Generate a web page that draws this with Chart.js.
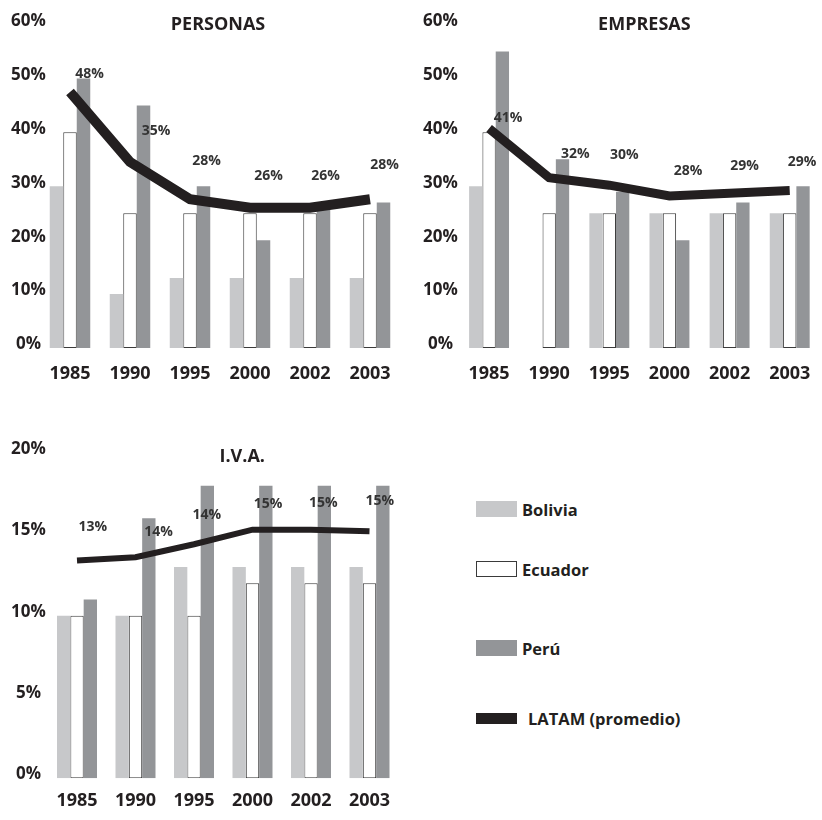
<!DOCTYPE html>
<html>
<head>
<meta charset="utf-8">
<script src="https://cdn.jsdelivr.net/npm/chart.js@4.4.0/dist/chart.umd.min.js"></script>
<style>
  html, body { margin: 0; padding: 0; background: #fff; }
  body { width: 822px; height: 820px; position: relative; overflow: hidden; font-family: 'Open Sans', sans-serif; color: #231f20; }
  canvas { position: absolute; }
  #cPersonas { left: 0; top: 0; }
  #cEmpresas { left: 410px; top: 0; }
  #cIva { left: 0; top: 410px; }
  .leg { position: absolute; display: flex; align-items: center; font-weight: 700; font-size: 16.5px; }
  .sw { width: 41px; height: 16px; margin-right: 5px; box-sizing: border-box; }
</style>
</head>
<body>
<canvas id="cPersonas" width="410" height="399"></canvas>
<canvas id="cEmpresas" width="415" height="399"></canvas>
<canvas id="cIva" width="410" height="413"></canvas>

<div class="leg" style="left:476px; top:497px; height:24px;"><div class="sw" style="background:#c7c8ca"></div>Bolivia</div>
<div class="leg" style="left:476px; top:557px; height:24px;"><div class="sw" style="background:#fff; border:1px solid #3a3a3a"></div>Ecuador</div>
<div class="leg" style="left:476px; top:636px; height:24px;"><div class="sw" style="background:#939598"></div>Perú</div>
<div class="leg" style="left:476px; top:706px; height:24px;"><div class="sw" style="background:#231f20; height:11px; margin-right:11px"></div>LATAM (promedio)</div>

<script>
const years = ['1985', '1990', '1995', '2000', '2002', '2003'];

// Impuesto a la renta - personas
const personasBolivia = [30, 10, 13, 13, 13, 13];
const personasEcuador = [40, 25, 25, 25, 25, 25];
const personasPeru = [50, 45, 30, 20, 26, 27];
const personasLatam = [47.5, 34.5, 27.6, 26, 26, 27.6];
const personasTicks = [0, 10, 20, 30, 40, 50, 60];

// Impuesto a la renta - empresas
const empresasBolivia = [30, null, 25, 25, 25, 25];
const empresasEcuador = [40, 25, 25, 25, 25, 25];
const empresasPeru = [55, 35, 29, 20, 27, 30];
const empresasLatam = [40.7, 31.6, 30.2, 28.2, 28.7, 29.2];
const empresasTicks = [0, 10, 20, 30, 40, 50, 60];

// Impuesto al valor agregado
const ivaBolivia = [10, 10, 13, 13, 13, 13];
const ivaEcuador = [10, 10, 10, 12, 12, 12];
const ivaPeru = [11, 16, 18, 18, 18, 18];
const ivaLatam = [13.4, 13.6, 14.4, 15.3, 15.3, 15.2];
const ivaTicks = [0, 5, 10, 15, 20];

const INK = '#231f20';
const FONT = "'Open Sans', sans-serif";
const Y_FONT = { family: FONT, size: 17, weight: 'bold' };
const Y_WIDTH = 40;

// ancho del rotulo mas largo del eje y, para centrarlos
function widestTick(ticks) {
  const ctx = document.createElement('canvas').getContext('2d');
  ctx.font = 'bold ' + Y_FONT.size + 'px ' + FONT;
  return Math.max(...ticks.map(v => ctx.measureText(v + '%').width));
}

// titulo del panel y etiquetas del promedio LATAM
const panelText = {
  id: 'panelText',
  afterDatasetsDraw(chart, args, opts) {
    const ctx = chart.ctx;
    const area = chart.chartArea;
    ctx.save();
    ctx.fillStyle = INK;
    ctx.textAlign = 'center';
    ctx.textBaseline = 'middle';
    ctx.font = 'bold 18px ' + FONT;
    ctx.fillText(opts.title, (area.left + area.right) / 2 + opts.titleDx, area.top + opts.titleDy);

    ctx.font = 'bold 14px ' + FONT;
    ctx.fillStyle = '#333';
    const meta = chart.getDatasetMeta(3);
    const vals = chart.data.datasets[3].data;
    meta.data.forEach((pt, i) => {
      const [dx, dy] = opts.labelShift[i];
      ctx.fillText(Math.round(vals[i]) + '%', pt.x + dx, pt.y + dy);
    });
    ctx.restore();
  }
};

function makePanel(id, cfg) {
  const half = widestTick(cfg.ticks) / 2;
  // rotulos del eje y centrados en cfg.yCenter (se dibujan en modo mirror)
  const yPad = cfg.yCenter - (cfg.padding.left + Y_WIDTH) - half;
  return new Chart(document.getElementById(id), {
    type: 'bar',
    data: {
      labels: years,
      datasets: [
        { label: 'Bolivia', data: cfg.bolivia, backgroundColor: '#c7c8ca', borderWidth: 0, order: 1 },
        { label: 'Ecuador', data: cfg.ecuador, backgroundColor: '#ffffff', borderColor: '#3a3a3a', borderWidth: 1, borderSkipped: false, order: 1 },
        { label: 'Perú', data: cfg.peru, backgroundColor: '#939598', borderWidth: 0, order: 1 },
        {
          type: 'line', label: 'LATAM (promedio)', data: cfg.latam,
          borderColor: INK, borderWidth: cfg.lineWidth, pointRadius: 0,
          borderCapStyle: 'butt', borderJoinStyle: 'miter', tension: 0, fill: false, order: 0
        }
      ]
    },
    options: {
      responsive: false,
      animation: false,
      devicePixelRatio: 1,
      layout: { padding: cfg.padding },
      datasets: {
        bar: { categoryPercentage: cfg.catPct, barPercentage: 1 }
      },
      plugins: {
        legend: { display: false },
        tooltip: { enabled: false },
        panelText: cfg.text
      },
      scales: {
        x: {
          grid: { display: false, drawTicks: false },
          border: { display: false },
          ticks: { color: INK, font: { family: FONT, size: 18, weight: 'bold' }, padding: cfg.xPad, maxRotation: 0 }
        },
        y: {
          min: 0,
          max: cfg.ticks[cfg.ticks.length - 1],
          grid: { display: false, drawTicks: false },
          border: { display: false },
          afterFit(scale) { scale.width = Y_WIDTH; },
          afterBuildTicks(scale) { scale.ticks = cfg.ticks.map(v => ({ value: v })); },
          ticks: {
            color: INK,
            font: Y_FONT,
            mirror: true,
            crossAlign: 'center',
            padding: yPad,
            labelOffset: cfg.yLabelOffset,
            callback: v => v + '%'
          }
        }
      }
    },
    plugins: [panelText]
  });
}

makePanel('cPersonas', {
  bolivia: personasBolivia, ecuador: personasEcuador, peru: personasPeru, latam: personasLatam,
  ticks: personasTicks, lineWidth: 10, catPct: 0.675,
  padding: { top: 24.5, right: 10, left: 0, bottom: 0 },
  xPad: 14.7, yCenter: 28.5, yLabelOffset: -3.5,
  text: {
    title: 'PERSONAS', titleDx: -2, titleDy: 0,
    labelShift: [[19.5, -18], [26, -31], [16.5, -38], [18.5, -32], [15.5, -32], [14.5, -34]]
  }
});

makePanel('cEmpresas', {
  bolivia: empresasBolivia, ecuador: empresasEcuador, peru: empresasPeru, latam: empresasLatam,
  ticks: empresasTicks, lineWidth: 9, catPct: 0.664,
  padding: { top: 24.5, right: 0, left: 9, bottom: 0 },
  xPad: 14.7, yCenter: 30.5, yLabelOffset: -3.5,
  text: {
    title: 'EMPRESAS', titleDx: 5, titleDy: 0,
    labelShift: [[19, -11], [26, -24], [15, -30], [18.5, -25], [15, -27], [12.4, -29]]
  }
});

makePanel('cIva', {
  bolivia: ivaBolivia, ecuador: ivaEcuador, peru: ivaPeru, latam: ivaLatam,
  ticks: ivaTicks, lineWidth: 6, catPct: 0.684,
  padding: { top: 43.3, right: 11.25, left: 7.75, bottom: 0 },
  xPad: 11.6, yCenter: 28.5, yLabelOffset: -4,
  text: {
    title: 'I.V.A.', titleDx: 19, titleDy: 3.4,
    labelShift: [[15.7, -33.5], [23, -25], [12.7, -29], [15.6, -26], [12.3, -27], [10.3, -30]]
  }
});
</script>
</body>
</html>
